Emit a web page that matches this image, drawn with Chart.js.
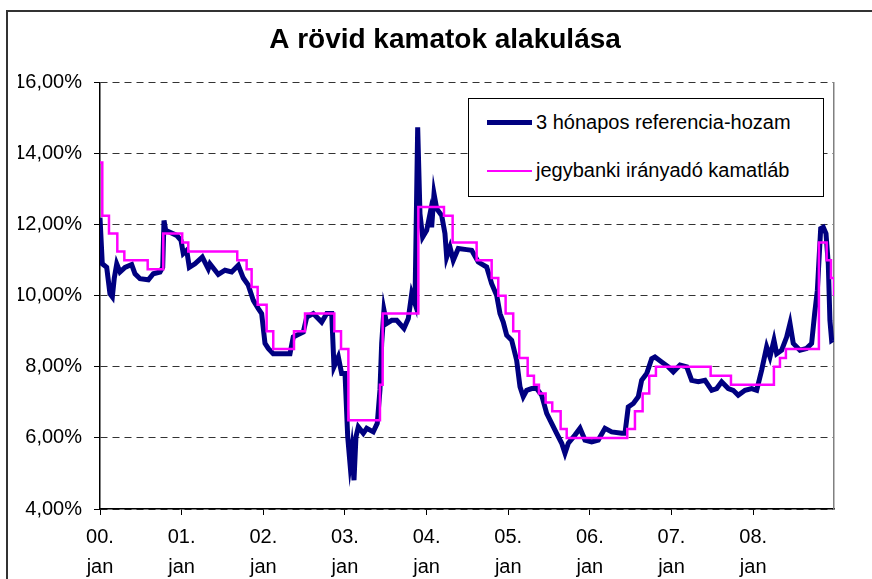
<!DOCTYPE html>
<html>
<head>
<meta charset="utf-8">
<script src="https://cdn.jsdelivr.net/npm/chart.js@4/dist/chart.umd.min.js"></script>
<style>
  body { margin: 0; background: #fff; }
  #wrap { position: relative; width: 872px; height: 579px; }
  #legend {
    position: absolute; left: 468px; top: 98px; width: 356px; height: 99px;
    box-sizing: border-box; border: 1px solid #000; background: #fff;
    font-family: "Liberation Sans", Arial, sans-serif; font-size: 20px; color: #000;
  }
  #legend .item { position: absolute; left: 18px; display: flex; align-items: center; white-space: nowrap; }
  #legend .swatch { width: 45px; margin-right: 4px; }
</style>
</head>
<body>
<div id="wrap">
  <canvas id="chart"></canvas>
  <div id="legend"></div>
</div>
<script>
// Adatok (évek 2000 januárjától, tizedes év)
const tickYears = ['00', '01', '02', '03', '04', '05', '06', '07', '08'];
const seriesNames = ['3 hónapos referencia-hozam', 'jegybanki irányadó kamatláb'];

// 3 hónapos referencia-hozam
const refYears = [
  0.000, 0.028, 0.082, 0.122, 0.151, 0.175, 0.205, 0.245, 0.306, 0.388, 0.429, 0.490, 0.592, 0.653, 0.735, 0.768,
  0.784, 0.805, 0.857, 0.939, 0.992, 1.020, 1.062, 1.094, 1.163, 1.253, 1.326, 1.347, 1.449, 1.531, 1.613, 1.694,
  1.755, 1.816, 1.878, 1.939, 1.980, 2.021, 2.061, 2.122, 2.225, 2.327, 2.367, 2.409, 2.490, 2.532, 2.612, 2.715,
  2.777, 2.838, 2.866, 2.919, 2.960, 3.001, 3.034, 3.062, 3.083, 3.111, 3.135, 3.164, 3.225, 3.267, 3.347, 3.396,
  3.429, 3.450, 3.478, 3.511, 3.573, 3.634, 3.723, 3.776, 3.818, 3.858, 3.891, 3.919, 3.952, 4.001, 4.042, 4.062,
  4.091, 4.124, 4.185, 4.225, 4.246, 4.287, 4.327, 4.388, 4.491, 4.552, 4.633, 4.736, 4.797, 4.859, 4.899, 4.939,
  4.981, 5.042, 5.103, 5.144, 5.184, 5.226, 5.287, 5.348, 5.410, 5.471, 5.532, 5.593, 5.655, 5.695, 5.736, 5.817,
  5.879, 5.940, 6.022, 6.103, 6.185, 6.267, 6.390, 6.430, 6.470, 6.532, 6.593, 6.634, 6.696, 6.757, 6.797, 6.879,
  6.961, 7.022, 7.104, 7.186, 7.247, 7.328, 7.410, 7.492, 7.553, 7.614, 7.695, 7.756, 7.817, 7.900, 7.982, 8.043,
  8.104, 8.165, 8.206, 8.255, 8.288, 8.349, 8.410, 8.451, 8.491, 8.573, 8.655, 8.716, 8.753, 8.786, 8.827, 8.859,
  8.892, 8.920, 8.940, 8.961, 8.993
];
const refRates = [
  12.20, 10.90, 10.80, 10.06, 9.97, 10.50, 10.90, 10.67, 10.80, 10.88, 10.62, 10.48, 10.45, 10.62, 10.67, 10.80,
  12.12, 11.84, 11.79, 11.70, 11.56, 11.19, 11.28, 10.80, 10.90, 11.09, 10.76, 10.90, 10.60, 10.72, 10.67, 10.86,
  10.50, 10.30, 9.87, 9.64, 9.50, 8.66, 8.52, 8.37, 8.37, 8.37, 8.84, 8.89, 8.98, 9.40, 9.50, 9.26,
  9.50, 9.50, 8.00, 8.28, 7.81, 7.81, 6.03, 5.28, 5.66, 4.81, 6.03, 6.31, 6.13, 6.27, 6.17, 6.41,
  7.35, 8.66, 9.60, 9.22, 9.31, 9.31, 9.08, 9.36, 10.06, 9.78, 14.74, 12.31, 11.65, 11.84, 12.31, 11.93,
  12.87, 12.45, 12.26, 11.75, 11.09, 11.37, 11.00, 11.33, 11.30, 11.28, 10.95, 10.81, 10.34, 10.01, 9.50, 9.26,
  8.89, 8.75, 8.19, 7.44, 7.16, 7.34, 7.39, 7.39, 7.20, 6.69, 6.41, 6.13, 5.85, 5.57, 5.85, 6.08,
  6.27, 5.94, 5.89, 5.94, 6.27, 6.17, 6.13, 6.13, 6.87, 6.97, 7.16, 7.62, 7.81, 8.23, 8.28, 8.14,
  8.00, 7.86, 8.05, 8.00, 7.62, 7.58, 7.62, 7.34, 7.39, 7.58, 7.39, 7.34, 7.20, 7.34, 7.39, 7.34,
  7.91, 8.56, 8.28, 8.75, 8.37, 8.47, 8.84, 9.22, 8.66, 8.47, 8.52, 8.66, 9.50, 10.15, 11.89, 11.93,
  11.75, 10.90, 9.31, 8.75, 8.80
];

// jegybanki irányadó kamatláb (változás időpontja, új szint)
const baseYears = [
  0.000, 0.028, 0.110, 0.212, 0.298, 0.584, 0.775, 1.007, 1.081, 1.681, 1.796, 1.857, 1.931, 2.041, 2.122, 2.376,
  2.511, 2.870, 2.952, 3.042, 3.429, 3.462, 3.899, 4.213, 4.319, 4.613, 4.797, 4.878, 4.968, 5.061, 5.135, 5.238,
  5.315, 5.376, 5.458, 5.539, 5.642, 5.716, 6.458, 6.552, 6.646, 6.727, 6.809, 7.479, 7.728, 8.254, 8.328, 8.401,
  8.805, 8.900, 8.953, 8.990
];
const baseRates = [
  13.75, 12.25, 11.75, 11.25, 11.00, 10.75, 11.75, 11.50, 11.25, 11.00, 10.75, 10.25, 9.75, 9.00, 8.50, 9.00,
  9.50, 9.00, 8.50, 6.50, 7.50, 9.50, 12.50, 12.25, 11.50, 11.00, 10.50, 10.00, 9.50, 9.00, 8.25, 7.75,
  7.50, 7.25, 7.00, 6.75, 6.25, 6.00, 6.25, 6.75, 7.25, 7.75, 8.00, 7.75, 7.50, 8.00, 8.25, 8.50,
  11.50, 11.00, 10.50, 10.00
];

const colors = ['#000080', '#FF00FF'];
const font = '"Liberation Sans", Arial, sans-serif';

// keret a diagram körül
const framePlugin = {
  id: 'frame',
  beforeDraw(chart) {
    const ctx = chart.ctx;
    ctx.save();
    ctx.fillStyle = '#fff';
    ctx.fillRect(0, 0, chart.width, chart.height);
    ctx.strokeStyle = '#333';
    ctx.lineWidth = 2;
    ctx.strokeRect(7, 11, chart.width + 20, chart.height + 20);
    ctx.restore();
  }
};

const chart = new Chart(document.getElementById('chart'), {
  type: 'line',
  data: {
    datasets: [
      {
        label: seriesNames[0],
        data: refYears.map((x, i) => ({ x: x, y: refRates[i] })),
        borderColor: colors[0],
        borderWidth: 5,
        pointRadius: 0,
        order: 2
      },
      {
        label: seriesNames[1],
        data: baseYears.map((x, i) => ({ x: x, y: baseRates[i] })),
        borderColor: colors[1],
        borderWidth: 2.5,
        pointRadius: 0,
        stepped: true,
        order: 1
      }
    ]
  },
  options: {
    responsive: true,
    maintainAspectRatio: false,
    devicePixelRatio: 1,
    animation: false,
    layout: { padding: { left: 18, right: 0, top: 0, bottom: 0 } },
    plugins: {
      legend: { display: false },
      tooltip: { enabled: false },
      title: {
        display: true,
        text: 'A rövid kamatok alakulása',
        color: '#000',
        font: { family: font, size: 28, weight: 'bold' },
        padding: { top: 23, bottom: 26 }
      }
    },
    scales: {
      x: {
        type: 'linear',
        min: 0,
        max: 8.99,
        afterBuildTicks: scale => { scale.ticks = tickYears.map((_, i) => ({ value: i })); },
        afterFit: scale => { scale.height = 70; },
        ticks: {
          autoSkip: false,
          maxRotation: 0,
          padding: 7,
          color: '#000',
          font: { family: font, size: 20, lineHeight: 1.5 },
          callback: v => [tickYears[v] + '.', 'jan']
        },
        grid: { drawOnChartArea: false, tickLength: 6, color: '#000', lineWidth: 1 },
        border: { color: '#000', width: 1.5 }
      },
      y: {
        min: 4,
        max: 16,
        afterFit: scale => { scale.width = 82; },
        ticks: {
          stepSize: 2,
          padding: 12,
          color: '#000',
          font: { family: font, size: 20 },
          callback: v => v.toFixed(2).replace('.', ',') + '%'
        },
        grid: { color: '#333', lineWidth: 1, tickLength: 6, tickColor: '#000', tickBorderDash: [] },
        border: { color: '#000', width: 1.5, dash: [7, 5] }
      },
      y2: {
        position: 'right',
        min: 4,
        max: 16,
        afterFit: scale => { scale.width = 38; },
        ticks: { display: false },
        grid: { drawOnChartArea: false, drawTicks: false },
        border: { color: '#808080', width: 1.5 }
      }
    }
  },
  plugins: [framePlugin]
});

// jelmagyarázat
const legend = document.getElementById('legend');
seriesNames.forEach((name, i) => {
  const item = document.createElement('div');
  item.className = 'item';
  item.style.top = (i === 0 ? 12 : 60) + 'px';
  const sw = document.createElement('span');
  sw.className = 'swatch';
  sw.style.borderTop = (i === 0 ? 5 : 2) + 'px solid ' + colors[i];
  const txt = document.createElement('span');
  txt.textContent = name;
  item.appendChild(sw);
  item.appendChild(txt);
  legend.appendChild(item);
});
</script>
</body>
</html>
